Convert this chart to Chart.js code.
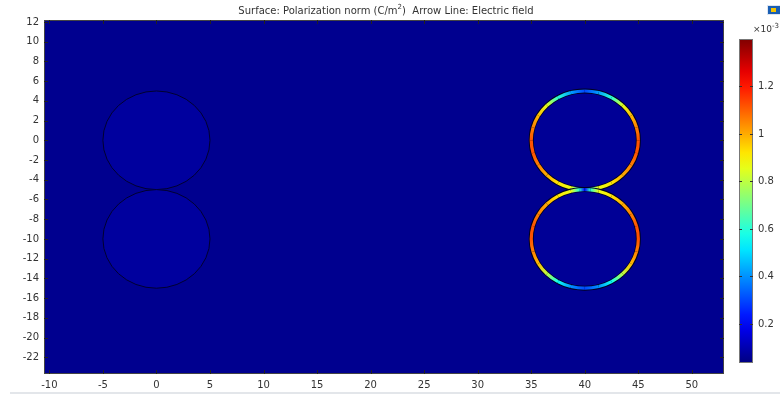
<!DOCTYPE html>
<html>
<head>
  <title>Polarization norm</title>
  <script src="https://cdn.jsdelivr.net/npm/chart.js"></script>
  <style>
    body { margin: 0; background: #fff; }
  </style>
</head>
<body>
  <canvas id="plot" width="780" height="396"></canvas>

  <script>
    // axes
    const xRange = [-10.5, 53];
    const yRange = [-23.7, 12.2];
    const xTicks = [-10, -5, 0, 5, 10, 15, 20, 25, 30, 35, 40, 45, 50];
    const yTicks = [-22, -20, -18, -16, -14, -12, -10, -8, -6, -4, -2, 0, 2, 4, 6, 8, 10, 12];

    // geometry: circle centres (um) and radius
    const plainCircles = [[0, 0], [0, -10]];
    const ringCircles = [[40, 0], [40, -10]];
    const circleRadius = 5;

    // polarization norm along the right-hand rings (x1e-3 C/m^2), angle in degrees, 0 = +x side
    const upperAngles = [90, 75, 60, 45, 30, 15, 0, -15, -30, -45, -60, -75, -84, -90];
    const upperValues = [0.3, 0.42, 0.6, 0.85, 0.98, 1.06, 1.12, 1.12, 1.06, 1.0, 0.92, 0.86, 0.6, 0.2];
    const lowerAngles = [90, 84, 75, 60, 45, 30, 15, 0, -15, -30, -45, -60, -75, -90];
    const lowerValues = [0.2, 0.6, 0.86, 0.92, 1.0, 1.06, 1.12, 1.12, 1.06, 0.98, 0.8, 0.56, 0.4, 0.3];

    // colour bar
    const cbRange = [0.035, 1.4];
    const cbTicks = [0.2, 0.4, 0.6, 0.8, 1, 1.2];

    const FONT = '"DejaVu Sans", sans-serif';

    function jet(v) {
      let t = (v - cbRange[0]) / (cbRange[1] - cbRange[0]);
      t = Math.max(0, Math.min(1, t));
      const c = x => Math.round(255 * Math.max(0, Math.min(1, 1.5 - Math.abs(4 * t - x))));
      return `rgb(${c(3)},${c(2)},${c(1)})`;
    }

    const surfacePlugin = {
      id: 'surface',
      beforeDatasetsDraw(chart) {
        const { ctx, chartArea: a, scales: { x, y } } = chart;
        ctx.save();
        ctx.fillStyle = '#00008f';
        ctx.fillRect(a.left, a.top, a.right - a.left, a.bottom - a.top);

        const ell = (c) => {
          const cx = x.getPixelForValue(c[0]), cy = y.getPixelForValue(c[1]);
          const rx = x.getPixelForValue(c[0] + circleRadius) - cx;
          const ry = cy - y.getPixelForValue(c[1] + circleRadius);
          return { cx, cy, rx, ry };
        };

        // left circles
        plainCircles.forEach(c => {
          const e = ell(c);
          ctx.beginPath();
          ctx.ellipse(e.cx, e.cy, e.rx, e.ry, 0, 0, Math.PI * 2);
          ctx.fillStyle = '#00009e';
          ctx.fill();
          ctx.strokeStyle = '#000030';
          ctx.lineWidth = 1;
          ctx.stroke();
        });

        // right circles with coloured rings
        ringCircles.forEach((c, k) => {
          const e = ell(c);
          const angles = k === 0 ? upperAngles : lowerAngles;
          const vals = k === 0 ? upperValues : lowerValues;
          ctx.beginPath();
          ctx.ellipse(e.cx, e.cy, e.rx, e.ry, 0, 0, Math.PI * 2);
          ctx.fillStyle = '#000096';
          ctx.fill();
          ctx.strokeStyle = '#000020';
          ctx.lineWidth = 5;
          ctx.stroke();

          const pt = deg => {
            const r = deg * Math.PI / 180;
            return [e.cx + e.rx * Math.cos(r), e.cy - e.ry * Math.sin(r)];
          };
          [1, -1].forEach(side => {
            for (let i = 0; i < angles.length - 1; i++) {
              let a1 = angles[i], a2 = angles[i + 1];
              if (side < 0) { a1 = 180 - a1; a2 = 180 - a2; }
              const p1 = pt(a1), p2 = pt(a2);
              const g = ctx.createLinearGradient(p1[0], p1[1], p2[0], p2[1]);
              g.addColorStop(0, jet(vals[i]));
              g.addColorStop(1, jet(vals[i + 1]));
              ctx.beginPath();
              ctx.ellipse(e.cx, e.cy, e.rx, e.ry, 0, -a1 * Math.PI / 180, -a2 * Math.PI / 180, a2 > a1);
              ctx.strokeStyle = g;
              ctx.lineWidth = 3.2;
              ctx.stroke();
            }
          });
        });
        ctx.restore();
      },
      afterDraw(chart) {
        const { ctx, chartArea: a, scales: { x, y } } = chart;
        ctx.save();
        // frame and inward ticks
        ctx.strokeStyle = '#444';
        ctx.lineWidth = 1;
        ctx.strokeRect(a.left + 0.5, a.top + 0.5, a.right - a.left - 1, a.bottom - a.top - 1);
        ctx.strokeStyle = '#222';
        ctx.beginPath();
        xTicks.forEach(v => {
          const px = Math.round(x.getPixelForValue(v)) + 0.5;
          ctx.moveTo(px, a.bottom); ctx.lineTo(px, a.bottom - 4);
          ctx.moveTo(px, a.top); ctx.lineTo(px, a.top + 4);
        });
        yTicks.forEach(v => {
          const py = Math.round(y.getPixelForValue(v)) + 0.5;
          ctx.moveTo(a.left, py); ctx.lineTo(a.left + 4, py);
          ctx.moveTo(a.right, py); ctx.lineTo(a.right - 4, py);
        });
        ctx.stroke();

        // title
        ctx.fillStyle = '#333';
        ctx.font = '10px ' + FONT;
        ctx.textBaseline = 'middle';
        const t1 = 'Surface: Polarization norm (C/m';
        const t2 = ')  Arrow Line: Electric field';
        const w1 = ctx.measureText(t1).width;
        ctx.font = '7px ' + FONT;
        const ws = ctx.measureText('2').width;
        ctx.font = '10px ' + FONT;
        const w2 = ctx.measureText(t2).width;
        let tx = 386 - (w1 + ws + w2) / 2;
        ctx.textAlign = 'left';
        ctx.fillText(t1, tx, 11);
        ctx.font = '7px ' + FONT;
        ctx.fillText('2', tx + w1, 7);
        ctx.font = '10px ' + FONT;
        ctx.fillText(t2, tx + w1 + ws, 11);

        // colour bar
        const cbL = 739, cbR = 753, cbT = 39, cbB = 363;
        const cy = v => cbB - (v - cbRange[0]) / (cbRange[1] - cbRange[0]) * (cbB - cbT);
        const grad = ctx.createLinearGradient(0, cbB, 0, cbT);
        for (let i = 0; i <= 20; i++) {
          const v = cbRange[0] + (cbRange[1] - cbRange[0]) * i / 20;
          grad.addColorStop(i / 20, jet(v));
        }
        ctx.fillStyle = grad;
        ctx.fillRect(cbL, cbT, cbR - cbL, cbB - cbT);
        ctx.strokeStyle = '#777';
        ctx.strokeRect(cbL + 0.5, cbT + 0.5, cbR - cbL - 1, cbB - cbT - 1);
        ctx.strokeStyle = '#333';
        ctx.fillStyle = '#333';
        ctx.font = '10px ' + FONT;
        ctx.beginPath();
        cbTicks.forEach(v => {
          const py = Math.round(cy(v)) + 0.5;
          ctx.moveTo(cbL, py); ctx.lineTo(cbL + 3, py);
          ctx.moveTo(cbR, py); ctx.lineTo(cbR - 3, py);
          ctx.fillText(String(v), 758, py);
        });
        ctx.stroke();
        ctx.font = '9px ' + FONT;
        ctx.fillText('\u00d710', 753, 30);
        ctx.font = '7px ' + FONT;
        ctx.fillText('-3', 772, 26);

        // small toolbar icon
        ctx.fillStyle = '#dde6f2';
        ctx.fillRect(767, 5, 13, 10);
        ctx.fillStyle = '#1a5fb4';
        ctx.fillRect(768, 6, 12, 8);
        ctx.fillStyle = '#f5c400';
        ctx.fillRect(771, 8, 5, 4);

        // bottom separator
        ctx.strokeStyle = '#e3e6ea';
        ctx.lineWidth = 2;
        ctx.beginPath();
        ctx.moveTo(10, 393); ctx.lineTo(780, 393);
        ctx.stroke();
        ctx.restore();
      }
    };

    new Chart(document.getElementById('plot').getContext('2d'), {
      type: 'scatter',
      data: {
        datasets: [{
          label: 'centres',
          data: plainCircles.concat(ringCircles).map(c => ({ x: c[0], y: c[1] })),
          pointRadius: 0
        }]
      },
      options: {
        responsive: false,
        animation: false,
        layout: { padding: { top: 20, right: 56, left: 0, bottom: 0 } },
        plugins: { legend: { display: false }, tooltip: { enabled: false } },
        scales: {
          x: {
            type: 'linear', min: xRange[0], max: xRange[1],
            grid: { display: false, drawTicks: false },
            border: { display: false },
            afterBuildTicks: s => { s.ticks = xTicks.map(v => ({ value: v })); },
            afterFit: s => { s.height = 22; },
            ticks: { color: '#333', font: { family: FONT, size: 10 }, padding: 5, maxRotation: 0, autoSkip: false }
          },
          y: {
            type: 'linear', min: yRange[0], max: yRange[1],
            grid: { display: false, drawTicks: false },
            border: { display: false },
            afterBuildTicks: s => { s.ticks = yTicks.map(v => ({ value: v })); },
            afterFit: s => { s.width = 44; },
            ticks: { color: '#333', font: { family: FONT, size: 10 }, padding: 5, autoSkip: false }
          }
        }
      },
      plugins: [surfacePlugin]
    });
  </script>
</body>
</html>
